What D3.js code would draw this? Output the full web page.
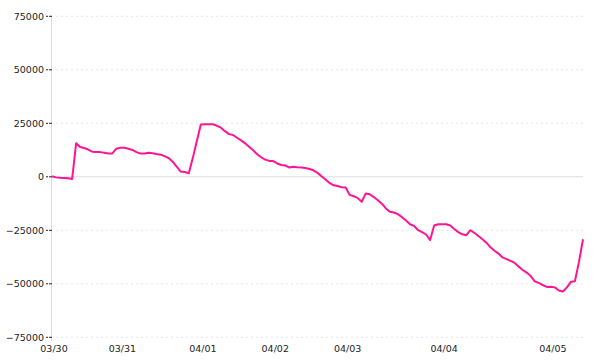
<!DOCTYPE html>
<html>
<head>
<meta charset="UTF-8">
<script src="https://d3js.org/d3.v7.min.js"></script>
<style>
  body { margin: 0; background: #fff; }
  text { font-family: "DejaVu Sans", Verdana, sans-serif; font-size: 9px; fill: #222; }
</style>
</head>
<body>
<div id="chart"></div>
<script>
// values in thousands, one sample per step
var values = [
  0, -0.5, -0.7, -0.8, -0.9, -1.3, 15.4, 13.7, 13.2, 12.5,
  11.5, 11.4, 11.3, 11.0, 10.7, 10.7, 12.9, 13.4, 13.3, 12.9,
  12.3, 11.3, 10.6, 10.7, 11.0, 10.8, 10.4, 10.1, 9.4, 8.5,
  6.8, 4.5, 2.2, 2.0, 1.4, 8.5, 16.5, 24.2, 24.3, 24.3,
  24.3, 23.6, 22.7, 21.1, 19.7, 19.3, 18.0, 16.8, 15.4, 13.8,
  12.2, 10.3, 8.9, 7.8, 7.2, 7.1, 6.0, 5.3, 5.1, 4.1,
  4.5, 4.2, 4.1, 3.9, 3.4, 2.8, 1.6, 0.0, -1.5, -3.1,
  -4.2, -4.5, -5.1, -5.2, -8.7, -9.3, -10.2, -11.9, -8.0, -8.4,
  -9.7, -11.2, -12.8, -15.0, -16.6, -16.9, -17.7, -19.1, -20.7, -22.4,
  -23.2, -25.1, -26.1, -27.2, -29.8, -23.0, -22.4, -22.4, -22.4, -23.0,
  -24.6, -26.1, -27.1, -27.5, -25.2, -26.4, -27.9, -29.4, -31.0, -33.2,
  -34.8, -36.1, -37.9, -38.7, -39.5, -40.5, -42.1, -43.8, -45.0, -46.6,
  -49.1, -49.8, -50.8, -51.7, -51.6, -51.9, -53.4, -53.8, -51.9, -49.3,
  -49.0, -40.0, -29.4
].map(function (v) { return v * 1000; });

var dayIndex = [0, 17, 37, 55, 73, 97, 124];
var dayLabels = ["03/30", "03/31", "04/01", "04/02", "04/03", "04/04", "04/05"];
var yTicks = [-75000, -50000, -25000, 0, 25000, 50000, 75000];

var margin = { top: 15.8, right: 17, bottom: 23.2, left: 52 },
  width = 600 - margin.left - margin.right,
  height = 360 - margin.top - margin.bottom;

var svg = d3.select("#chart")
  .append("svg")
  .attr("width", 600)
  .attr("height", 360)
  .append("g")
  .attr("transform", "translate(" + margin.left + "," + margin.top + ")");

var x = d3.scaleLinear()
  .domain([0, values.length - 1])
  .range([0, width]);

var y = d3.scaleLinear()
  .domain([-75000, 75000])
  .range([height, 0]);

// grid lines
var grid = svg.append("g")
  .call(d3.axisLeft(y).tickValues(yTicks).tickSize(-width).tickFormat(""));
grid.select(".domain").remove();
grid.selectAll(".tick line")
  .attr("stroke", function (d) { return d === 0 ? "#dcdcdc" : "#e6e6e6"; })
  .attr("stroke-dasharray", function (d) { return d === 0 ? null : "2,3"; })
  .attr("x1", function (d) { return d === 0 ? 0 : 4; });

// y axis
var yAxis = svg.append("g")
  .call(d3.axisLeft(y).tickValues(yTicks).tickSize(6).tickSizeOuter(0).tickPadding(2)
    .tickFormat(d3.format("d")));
yAxis.select(".domain")
  .attr("stroke", "#dcdcdc")
  .attr("d", "M-0.5," + (y(75000)) + "V" + (height + 4));
yAxis.selectAll(".tick line")
  .attr("stroke", "#222")
  .attr("stroke-dasharray", "3,1");
yAxis.selectAll(".tick text")
  .style("font-size", "9.5px")
  .attr("dy", "0.36em");

// x axis labels
var xAxis = svg.append("g")
  .attr("transform", "translate(0," + height + ")")
  .call(d3.axisBottom(x)
    .tickValues(dayIndex)
    .tickSize(0)
    .tickPadding(8)
    .tickFormat(function (d, i) { return dayLabels[i]; }));
xAxis.select(".domain").remove();
xAxis.selectAll(".tick text")
  .style("font-size", "9.5px")
  .attr("dx", "1.5");

// line
svg.append("path")
  .datum(values)
  .attr("fill", "none")
  .attr("stroke", "#ff1493")
  .attr("stroke-width", 2)
  .attr("stroke-linejoin", "round")
  .attr("d", d3.line()
    .x(function (d, i) { return x(i); })
    .y(function (d) { return y(d); }));
</script>
</body>
</html>
